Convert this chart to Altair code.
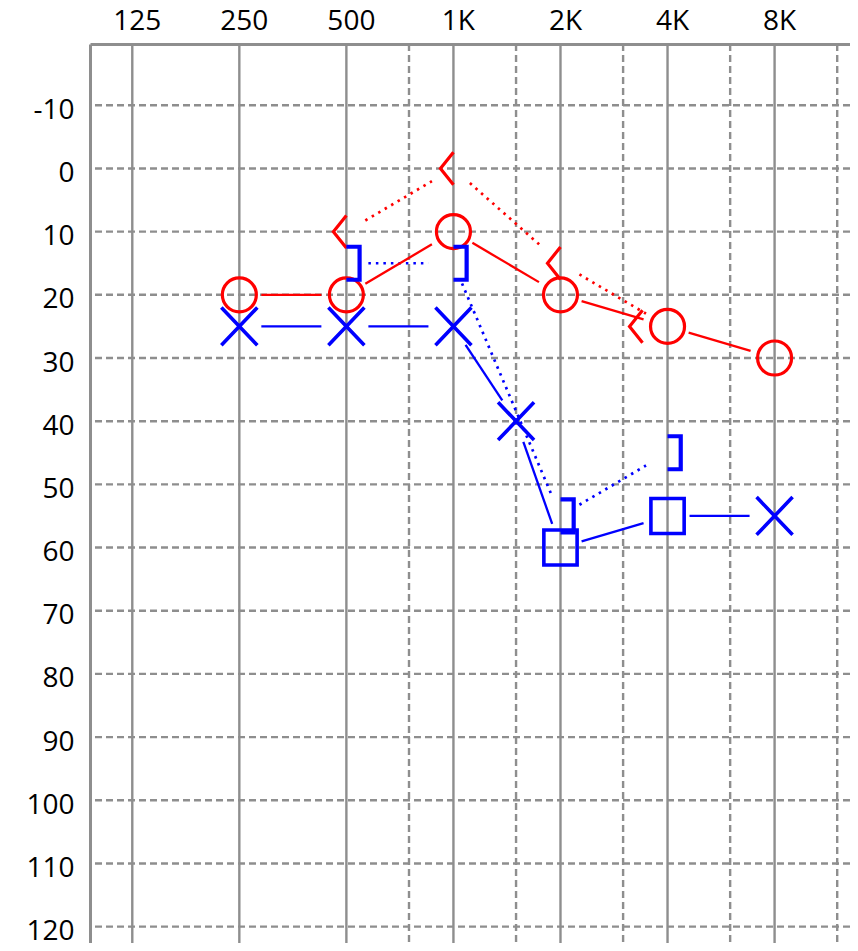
import altair as alt
import numpy as np
import pandas as pd

# ---------------- data ----------------
freq_ticks = [125, 250, 500, 1000, 2000, 4000, 8000]
freq_tick_labels = ["125", "250", "500", "1K", "2K", "4K", "8K"]
half_octave_freqs = [750, 1500, 3000, 6000, 12000]
db_ticks = list(range(-10, 121, 10))

# right ear, air conduction (O)
right_ac_freq = [250, 500, 1000, 2000, 4000, 8000]
right_ac_db = [20, 20, 10, 20, 25, 30]

# right ear, bone conduction unmasked (<)
right_bc_freq = [500, 1000, 2000, 4000]
right_bc_db = [10, 0, 15, 25]

# left ear, air conduction (X unmasked, square masked)
left_ac_freq = [250, 500, 1000, 1500, 2000, 4000, 8000]
left_ac_db = [25, 25, 25, 40, 60, 55, 55]
left_ac_masked = [False, False, False, False, True, True, False]

# left ear, bone conduction masked (])
left_bc_freq = [500, 1000, 2000, 4000]
left_bc_db = [15, 15, 55, 45]

# ---------------- layout ----------------
PPO = 107.05          # px per octave
PPD = 6.318           # px per dB
W, H = 760, 899
X_DOM = [-0.395, -0.395 + W / PPO]
Y_DOM = [-19.7, -19.7 + H / PPD]

RED = "#ff0000"
BLUE = "#0000ff"
GRID = "#8e8e8e"
FONT = "Open Sans"


def octv(f):
    return np.log2(np.asarray(f, dtype=float) / 125.0)


def segments(freqs, dbs, trim_a=22.0, trim_b=25.0):
    o = octv(freqs)
    d = np.asarray(dbs, dtype=float)
    rows = []
    for i in range(len(o) - 1):
        do, dd = o[i + 1] - o[i], d[i + 1] - d[i]
        L = np.hypot(do * PPO, dd * PPD)
        fa, fb = trim_a / L, 1 - trim_b / L
        rows.append(dict(o=o[i] + do * fa, d=d[i] + dd * fa,
                         o2=o[i] + do * fb, d2=d[i] + dd * fb))
    return pd.DataFrame(rows)


def bc_symbols(bc_freq, bc_db, ac_freq, ac_db, shift_px):
    ac = dict(zip(ac_freq, ac_db))
    o = octv(bc_freq)
    shift = np.array([shift_px if ac.get(f) == v else 0.0
                      for f, v in zip(bc_freq, bc_db)])
    return pd.DataFrame(dict(o=o + shift / PPO, d=bc_db))


xs = alt.Scale(domain=X_DOM, nice=False, zero=False)
ys = alt.Scale(domain=Y_DOM, nice=False, zero=False, reverse=True)

label_expr = "[" + ",".join("'%s'" % s for s in freq_tick_labels) + "][round(datum.value)]"
xaxis = alt.Axis(orient="top", values=list(range(len(freq_ticks))), labelExpr=label_expr,
                 title=None, ticks=False, tickSize=0, grid=False, domain=True,
                 domainColor=GRID, domainWidth=3, labelFont=FONT, labelFontSize=28,
                 labelColor="#000000", labelPadding=15, labelBaseline="alphabetic",
                 labelOffset=4.5, labelFlush=False, labelOverlap=False)
yaxis = alt.Axis(orient="left", values=db_ticks, title=None, ticks=False, tickSize=0,
                 grid=False, domain=True, domainColor=GRID, domainWidth=3,
                 labelExpr="'' + datum.value",
                 labelFont=FONT, labelFontSize=28, labelColor="#000000",
                 labelPadding=16, labelOffset=5, labelFlush=False, labelOverlap=False,
                 labelBaseline="middle", labelAlign="right")


def X(field="o"):
    return alt.X(f"{field}:Q", scale=xs, axis=xaxis)


def Y(field="d"):
    return alt.Y(f"{field}:Q", scale=ys, axis=yaxis)


# grid
vsolid = alt.Chart(pd.DataFrame(dict(o=octv(freq_ticks)))).mark_rule(
    color=GRID, strokeWidth=2.4).encode(x=X())
vdash = alt.Chart(pd.DataFrame(dict(o=octv(half_octave_freqs)))).mark_rule(
    color=GRID, strokeWidth=2.4, strokeDash=[7, 4]).encode(x=X())
hdash = alt.Chart(pd.DataFrame(dict(d=db_ticks))).mark_rule(
    color=GRID, strokeWidth=2.4, strokeDash=[7, 4]).encode(y=Y())


def seg_layer(df, color, dash=None, width=2.0):
    kw = dict(color=color, strokeWidth=width)
    if dash:
        kw["strokeDash"] = dash
    return alt.Chart(df).mark_rule(**kw).encode(
        x=X(), y=Y(), x2=alt.X2("o2"), y2=alt.Y2("d2"))


red_solid = seg_layer(segments(right_ac_freq, right_ac_db), RED, width=2.3)
red_dot = seg_layer(segments(right_bc_freq, right_bc_db), RED, dash=[2.5, 5], width=2.7)
blue_solid = seg_layer(segments(left_ac_freq, left_ac_db), BLUE, width=2.3)
blue_dot = seg_layer(segments(left_bc_freq, left_bc_db), BLUE, dash=[2.5, 5], width=2.7)

# symbols
P_X = "M-1,-1.05L1,1.05M1,-1.05L-1,1.05"
P_SQ = "M-0.95,-1L0.95,-1L0.95,1L-0.95,1Z"
P_LT = "M0,-1L-0.8,0L0,1"
P_RB = "M0,-1L0.8,-1L0.8,1L0,1"


def sym(df, shape, size, color, width):
    return alt.Chart(df).mark_point(shape=shape, size=size, filled=False, color=color,
                                    stroke=color, strokeWidth=width, opacity=1).encode(
        x=X(), y=Y())


ro_df = pd.DataFrame(dict(o=octv(right_ac_freq), d=right_ac_db))
lac_df = pd.DataFrame(dict(o=octv(left_ac_freq), d=left_ac_db, m=left_ac_masked))
lx_df = lac_df[~lac_df["m"]][["o", "d"]]
lsq_df = lac_df[lac_df["m"]][["o", "d"]]
rbc_df = bc_symbols(right_bc_freq, right_bc_db, right_ac_freq, right_ac_db, -25.0)
lbc_df = bc_symbols(left_bc_freq, left_bc_db, left_ac_freq, left_ac_db, 25.0)

s_o = sym(ro_df, "circle", 1156, RED, 3.2)
s_lt = sym(rbc_df, P_LT, 1056, RED, 3.2)
s_x = sym(lx_df, P_X, 1296, BLUE, 3.6)
s_sq = sym(lsq_df, P_SQ, 1225, BLUE, 3.6)
s_rb = sym(lbc_df, P_RB, 1089, BLUE, 4.2)

chart = alt.layer(
    vsolid, vdash, hdash,
    red_dot, blue_dot, red_solid, blue_solid,
    s_o, s_lt, s_x, s_sq, s_rb,
).properties(
    width=W, height=H,
    padding={"left": 82, "top": 36, "right": 0, "bottom": 0},
    autosize=alt.AutoSizeParams(type="none"),
).configure_view(stroke=None)

chart.save("out.html", embed_options={"renderer": "svg", "actions": False})
